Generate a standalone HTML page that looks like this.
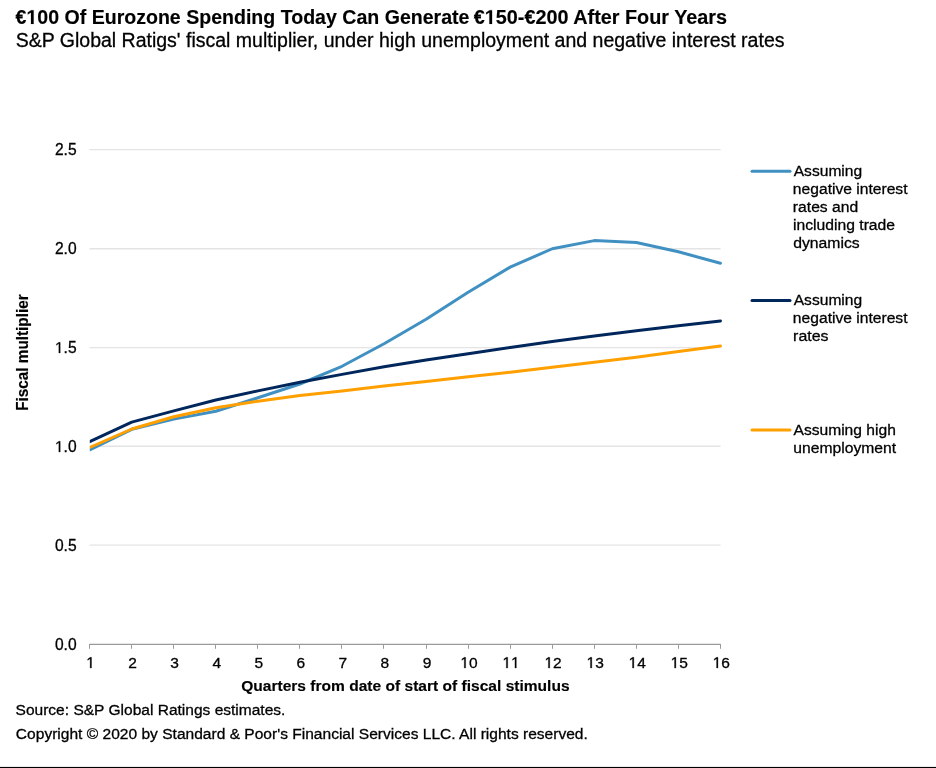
<!DOCTYPE html>
<html><head><meta charset="utf-8">
<style>
html,body{margin:0;padding:0;background:#fff;}
body{width:936px;height:768px;position:relative;overflow:hidden;}
svg{position:absolute;left:0;top:0;font-family:"Liberation Sans",sans-serif;will-change:transform;}
text{stroke:#000;stroke-width:0.3px;}
text[font-weight="bold"]{stroke-width:0.15px;}
.g1{fill:#000;stroke:#000;stroke-width:39px;}
tspan.h1{fill:transparent;stroke:transparent;}
.g1b{fill:#000;stroke:#000;stroke-width:15px;}
</style></head><body>
<svg width="936" height="768" viewBox="0 0 936 768">
<defs><clipPath id="pc"><rect x="89.8" y="0" width="700" height="700"/></clipPath></defs>
<text id="title" x="15.53" y="23.9" font-size="20" font-weight="bold" textLength="453.96" lengthAdjust="spacingAndGlyphs">€<tspan class="h1">1</tspan>00 Of Eurozone Spending Today Can Generate</text>
<text id="title2" x="473.71" y="23.9" font-size="20" font-weight="bold" textLength="253.37" lengthAdjust="spacingAndGlyphs">€<tspan class="h1">1</tspan>50-€200 After Four Years</text>
<text id="sub" x="15.69" y="46.7" font-size="20" textLength="768.80" lengthAdjust="spacingAndGlyphs">S&amp;P Global Ratigs' fiscal multiplier, under high unemployment and negative interest rates</text>
<text id="l1a" x="793.73" y="176.2" font-size="15.5" textLength="68.47" lengthAdjust="spacingAndGlyphs">Assuming</text>
<text id="l1b" x="792.89" y="194.1" font-size="15.5" textLength="114.64" lengthAdjust="spacingAndGlyphs">negative interest</text>
<text id="l1c" x="792.89" y="212.0" font-size="15.5" textLength="65.33" lengthAdjust="spacingAndGlyphs">rates and</text>
<text id="l1d" x="793.06" y="230.0" font-size="15.5" textLength="101.97" lengthAdjust="spacingAndGlyphs">including trade</text>
<text id="l1e" x="793.18" y="247.9" font-size="15.5" textLength="66.48" lengthAdjust="spacingAndGlyphs">dynamics</text>
<text id="l2a" x="793.73" y="305.3" font-size="15.5" textLength="68.47" lengthAdjust="spacingAndGlyphs">Assuming</text>
<text id="l2b" x="792.89" y="323.2" font-size="15.5" textLength="114.64" lengthAdjust="spacingAndGlyphs">negative interest</text>
<text id="l2c" x="793.13" y="341.2" font-size="15.5" textLength="35.37" lengthAdjust="spacingAndGlyphs">rates</text>
<text id="l3a" x="793.47" y="434.8" font-size="15.5" textLength="102.35" lengthAdjust="spacingAndGlyphs">Assuming high</text>
<text id="l3b" x="793.35" y="452.6" font-size="15.5" textLength="102.73" lengthAdjust="spacingAndGlyphs">unemployment</text>
<text id="xt" x="241.19" y="691.15" font-size="15.5" font-weight="bold" textLength="328.41" lengthAdjust="spacingAndGlyphs">Quarters from date of start of fiscal stimulus</text>
<text id="src" x="15.57" y="714.7" font-size="15.5" textLength="269.84" lengthAdjust="spacingAndGlyphs">Source: S&amp;P Global Ratings estimates.</text>
<text id="copy" x="15.89" y="738.75" font-size="15.5" textLength="571.96" lengthAdjust="spacingAndGlyphs">Copyright © 2020 by Standard &amp; Poor's Financial Services LLC. All rights reserved.</text>
<g stroke="#e4e4e4" stroke-width="1.4"><line x1="89.5" y1="149.6" x2="720.6" y2="149.6"/><line x1="89.5" y1="248.8" x2="720.6" y2="248.8"/><line x1="89.5" y1="347.6" x2="720.6" y2="347.6"/><line x1="89.5" y1="446.3" x2="720.6" y2="446.3"/><line x1="89.5" y1="545.1" x2="720.6" y2="545.1"/></g>
<g stroke="#9a9a9a" stroke-width="1.2"><line x1="89.5" y1="644" x2="89.5" y2="648.8" stroke-width="1"/><line x1="131.5" y1="644" x2="131.5" y2="648.8" stroke-width="1"/><line x1="173.5" y1="644" x2="173.5" y2="648.8" stroke-width="1"/><line x1="215.5" y1="644" x2="215.5" y2="648.8" stroke-width="1"/><line x1="257.5" y1="644" x2="257.5" y2="648.8" stroke-width="1"/><line x1="299.5" y1="644" x2="299.5" y2="648.8" stroke-width="1"/><line x1="341.5" y1="644" x2="341.5" y2="648.8" stroke-width="1"/><line x1="383.5" y1="644" x2="383.5" y2="648.8" stroke-width="1"/><line x1="426.5" y1="644" x2="426.5" y2="648.8" stroke-width="1"/><line x1="468.5" y1="644" x2="468.5" y2="648.8" stroke-width="1"/><line x1="510.5" y1="644" x2="510.5" y2="648.8" stroke-width="1"/><line x1="552.5" y1="644" x2="552.5" y2="648.8" stroke-width="1"/><line x1="594.5" y1="644" x2="594.5" y2="648.8" stroke-width="1"/><line x1="636.5" y1="644" x2="636.5" y2="648.8" stroke-width="1"/><line x1="678.5" y1="644" x2="678.5" y2="648.8" stroke-width="1"/><line x1="720.5" y1="644" x2="720.5" y2="648.8" stroke-width="1"/><line x1="89.4" y1="644.3" x2="720.6" y2="644.3"/></g>
<g><text x="54.914" y="155" font-size="15.6">2</text><text x="63.590" y="155" font-size="15.6">.</text><text x="67.924" y="155" font-size="15.6">5</text><text x="54.914" y="254" font-size="15.6">2</text><text x="63.590" y="254" font-size="15.6">.</text><text x="67.924" y="254" font-size="15.6">0</text><path class="g1" transform="translate(54.914,353) scale(0.007617,-0.007617)" d="M515,0L515,1237L197,1010L197,1180L530,1409L696,1409L696,0Z"/><text x="63.590" y="353" font-size="15.6">.</text><text x="67.924" y="353" font-size="15.6">5</text><path class="g1" transform="translate(54.914,452) scale(0.007617,-0.007617)" d="M515,0L515,1237L197,1010L197,1180L530,1409L696,1409L696,0Z"/><text x="63.590" y="452" font-size="15.6">.</text><text x="67.924" y="452" font-size="15.6">0</text><text x="54.914" y="551" font-size="15.6">0</text><text x="63.590" y="551" font-size="15.6">.</text><text x="67.924" y="551" font-size="15.6">5</text><text x="54.914" y="650" font-size="15.6">0</text><text x="63.590" y="650" font-size="15.6">.</text><text x="67.924" y="650" font-size="15.6">0</text></g>
<g><path class="g1" transform="translate(86.240,668) scale(0.007568,-0.007568)" d="M515,0L515,1237L197,1010L197,1180L530,1409L696,1409L696,0Z"/><text x="128.290" y="668" font-size="15.5">2</text><text x="170.340" y="668" font-size="15.5">3</text><text x="212.390" y="668" font-size="15.5">4</text><text x="254.440" y="668" font-size="15.5">5</text><text x="296.490" y="668" font-size="15.5">6</text><text x="338.540" y="668" font-size="15.5">7</text><text x="380.590" y="668" font-size="15.5">8</text><text x="422.640" y="668" font-size="15.5">9</text><path class="g1" transform="translate(460.380,668) scale(0.007568,-0.007568)" d="M515,0L515,1237L197,1010L197,1180L530,1409L696,1409L696,0Z"/><text x="469.000" y="668" font-size="15.5">0</text><path class="g1" transform="translate(502.430,668) scale(0.007568,-0.007568)" d="M515,0L515,1237L197,1010L197,1180L530,1409L696,1409L696,0Z"/><path class="g1" transform="translate(511.050,668) scale(0.007568,-0.007568)" d="M515,0L515,1237L197,1010L197,1180L530,1409L696,1409L696,0Z"/><path class="g1" transform="translate(544.480,668) scale(0.007568,-0.007568)" d="M515,0L515,1237L197,1010L197,1180L530,1409L696,1409L696,0Z"/><text x="553.100" y="668" font-size="15.5">2</text><path class="g1" transform="translate(586.530,668) scale(0.007568,-0.007568)" d="M515,0L515,1237L197,1010L197,1180L530,1409L696,1409L696,0Z"/><text x="595.150" y="668" font-size="15.5">3</text><path class="g1" transform="translate(628.580,668) scale(0.007568,-0.007568)" d="M515,0L515,1237L197,1010L197,1180L530,1409L696,1409L696,0Z"/><text x="637.200" y="668" font-size="15.5">4</text><path class="g1" transform="translate(670.630,668) scale(0.007568,-0.007568)" d="M515,0L515,1237L197,1010L197,1180L530,1409L696,1409L696,0Z"/><text x="679.250" y="668" font-size="15.5">5</text><path class="g1" transform="translate(712.680,668) scale(0.007568,-0.007568)" d="M515,0L515,1237L197,1010L197,1180L530,1409L696,1409L696,0Z"/><text x="721.300" y="668" font-size="15.5">6</text></g>
<g fill="none" stroke-width="3" stroke-linejoin="round" stroke-linecap="round">
<g clip-path="url(#pc)">
<polyline stroke="#4091c2" points="89.70,450.0 131.75,429.3 173.80,419.1 215.85,411.3 257.90,397.8 299.95,384.0 342.00,366.3 384.05,343.75 426.10,319.3 468.15,292.3 510.20,267.1 552.25,248.75 594.30,240.6 636.35,242.55 678.40,251.8 720.45,263.2"/>
<polyline stroke="#00275c" points="89.70,441.6 131.75,422.1 173.80,410.9 215.85,400.0 257.90,390.9 299.95,382.3 342.00,374.4 384.05,366.7 426.10,359.9 468.15,353.75 510.20,347.5 552.25,341.5 594.30,335.9 636.35,330.85 678.40,325.7 720.45,320.9"/>
<polyline stroke="#ffa000" points="89.70,447.5 131.75,429.0 173.80,416.8 215.85,407.8 257.90,401.2 299.95,395.4 342.00,391.1 384.05,386.0 426.10,381.5 468.15,376.8 510.20,372.2 552.25,367.2 594.30,362.2 636.35,357.15 678.40,351.5 720.45,345.9"/>
</g>
<line stroke="#4091c2" x1="752" y1="171.3" x2="790" y2="171.3"/>
<line stroke="#00275c" x1="752" y1="300.5" x2="790" y2="300.5"/>
<line stroke="#ffa000" x1="752" y1="429.9" x2="790" y2="429.9"/>
</g>
<text transform="translate(28.1,410.8) rotate(-90)" font-size="15.8" font-weight="bold" textLength="116.5" lengthAdjust="spacingAndGlyphs">Fiscal multiplier</text>
<path class="g1b" transform="translate(26.410,23.9) scale(0.009552,-0.009766)" d="M478,0L478,1170L140,959L140,1180L493,1409L759,1409L759,0Z"/><path class="g1b" transform="translate(484.733,23.9) scale(0.009678,-0.009766)" d="M478,0L478,1170L140,959L140,1180L493,1409L759,1409L759,0Z"/>
<rect x="0" y="766.92" width="936" height="1.08" fill="#000"/>

</svg>
</body></html>
